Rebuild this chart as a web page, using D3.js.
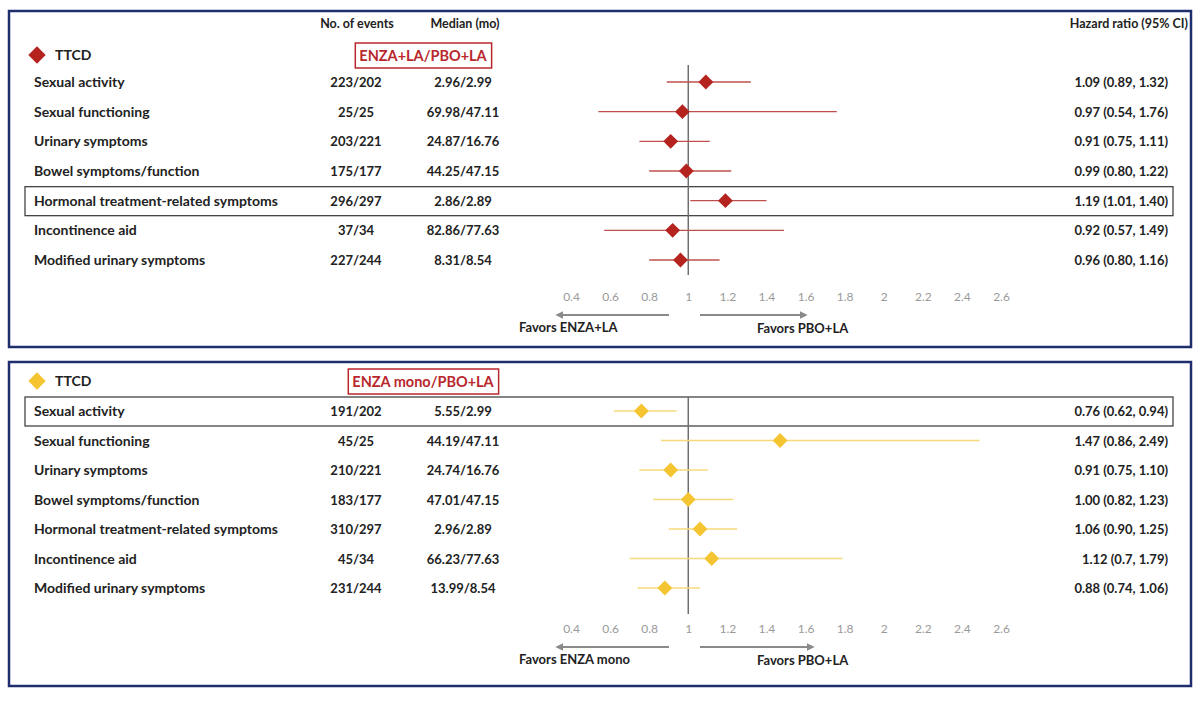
<!DOCTYPE html>
<html>
<head>
<meta charset="utf-8">
<script src="https://cdn.jsdelivr.net/npm/d3@7"></script>
<style>
  body { margin: 0; background: #fff; }
  text { font-family: Lato, "Open Sans", sans-serif; }
</style>
</head>
<body>
<div id="container"></div>
<script>
/* CONSTANTS AND GLOBALS */
const width = 1200, height = 701;

// DATA
const outcomes = ["Sexual activity", "Sexual functioning", "Urinary symptoms",
  "Bowel symptoms/function", "Hormonal treatment-related symptoms",
  "Incontinence aid", "Modified urinary symptoms"];
const tickValues = [0.4, 0.6, 0.8, 1, 1.2, 1.4, 1.6, 1.8, 2, 2.2, 2.4, 2.6];

// ENZA+LA vs PBO+LA
const laEvents = ["223/202", "25/25", "203/221", "175/177", "296/297", "37/34", "227/244"];
const laMedian = ["2.96/2.99", "69.98/47.11", "24.87/16.76", "44.25/47.15", "2.86/2.89", "82.86/77.63", "8.31/8.54"];
const laHR = [1.09, 0.97, 0.91, 0.99, 1.19, 0.92, 0.96];
const laLow = [0.89, 0.54, 0.75, 0.80, 1.01, 0.57, 0.80];
const laHigh = [1.32, 1.76, 1.11, 1.22, 1.40, 1.49, 1.16];
const laLabels = ["1.09 (0.89, 1.32)", "0.97 (0.54, 1.76)", "0.91 (0.75, 1.11)", "0.99 (0.80, 1.22)",
  "1.19 (1.01, 1.40)", "0.92 (0.57, 1.49)", "0.96 (0.80, 1.16)"];

// ENZA mono vs PBO+LA
const monoEvents = ["191/202", "45/25", "210/221", "183/177", "310/297", "45/34", "231/244"];
const monoMedian = ["5.55/2.99", "44.19/47.11", "24.74/16.76", "47.01/47.15", "2.96/2.89", "66.23/77.63", "13.99/8.54"];
const monoHR = [0.76, 1.47, 0.91, 1.00, 1.06, 1.12, 0.88];
const monoLow = [0.62, 0.86, 0.75, 0.82, 0.90, 0.7, 0.74];
const monoHigh = [0.94, 2.49, 1.10, 1.23, 1.25, 1.79, 1.06];
const monoLabels = ["0.76 (0.62, 0.94)", "1.47 (0.86, 2.49)", "0.91 (0.75, 1.10)", "1.00 (0.82, 1.23)",
  "1.06 (0.90, 1.25)", "1.12 (0.7, 1.79)", "0.88 (0.74, 1.06)"];

const svg = d3.select("#container")
  .append("svg")
  .attr("width", width)
  .attr("height", height);

// arrow marker
svg.append("defs").append("marker")
  .attr("id", "arrow")
  .attr("viewBox", "0 0 10 10")
  .attr("refX", 8).attr("refY", 5)
  .attr("markerWidth", 4.5).attr("markerHeight", 4.5)
  .attr("orient", "auto-start-reverse")
  .append("path")
  .attr("d", "M0,0 L10,5 L0,10 Z")
  .attr("fill", "#8a8a8a");

const x = d3.scaleLinear().domain([0.4, 2.6]).range([571, 1001]);

function drawPanel(p) {
  const g = svg.append("g");

  // frame
  g.append("rect")
    .attr("x", 9).attr("y", p.top)
    .attr("width", 1182).attr("height", p.bottom - p.top)
    .attr("fill", "none")
    .attr("stroke", "#1f2f6e")
    .attr("stroke-width", 2.5);

  const y = d3.scalePoint().domain(outcomes).range(p.rows);
  const rows = outcomes.map((o, i) => ({
    name: o, ev: p.events[i], med: p.median[i],
    hr: p.hr[i], lo: p.low[i], hi: p.high[i], lab: p.labels[i]
  }));

  // highlight box
  const hy = y(outcomes[p.highlight]);
  g.append("rect")
    .attr("x", 25).attr("y", hy - 14)
    .attr("width", 1148).attr("height", 29)
    .attr("fill", "none")
    .attr("stroke", "#444")
    .attr("stroke-width", 1.3);

  // legend: diamond + TTCD
  g.append("path")
    .attr("d", d3.symbol().type(d3.symbolSquare).size(150)())
    .attr("transform", `translate(37,${p.legendY}) rotate(45)`)
    .attr("fill", p.marker);
  g.append("text")
    .attr("x", 55).attr("y", p.legendY + 5)
    .attr("font-size", 14).attr("font-weight", 700)
    .attr("fill", "#222")
    .text("TTCD");

  // comparison box
  const cb = g.append("text")
    .attr("x", 423).attr("y", p.legendY + 6)
    .attr("text-anchor", "middle")
    .attr("font-size", 14.5).attr("font-weight", 700)
    .attr("fill", "#b8282d")
    .text(p.comparison);
  const bb = cb.node().getBBox();
  g.insert("rect", "text")
    .attr("x", bb.x - 4).attr("y", p.legendY - 12)
    .attr("width", bb.width + 8).attr("height", 25)
    .attr("fill", "none")
    .attr("stroke", "#b8282d")
    .attr("stroke-width", 1.5);

  // reference line
  g.append("line")
    .attr("x1", x(1)).attr("x2", x(1))
    .attr("y1", p.refTop).attr("y2", p.refBottom)
    .attr("stroke", "#6e6e6e")
    .attr("stroke-width", 1.5);

  const row = g.selectAll("g.row")
    .data(rows)
    .join("g")
    .attr("class", "row")
    .attr("transform", d => `translate(0,${y(d.name)})`);

  row.append("text")
    .attr("x", 34).attr("y", 5)
    .attr("font-size", 14).attr("font-weight", 700)
    .attr("fill", "#222")
    .text(d => d.name);
  row.append("text")
    .attr("x", 356).attr("y", 5)
    .attr("text-anchor", "middle")
    .attr("font-size", 13).attr("font-weight", 700)
    .attr("fill", "#222")
    .text(d => d.ev);
  row.append("text")
    .attr("x", 463).attr("y", 5)
    .attr("text-anchor", "middle")
    .attr("font-size", 13).attr("font-weight", 700)
    .attr("fill", "#222")
    .text(d => d.med);
  row.append("text")
    .attr("x", 1168).attr("y", 5)
    .attr("text-anchor", "end")
    .attr("font-size", 13).attr("font-weight", 700)
    .attr("fill", "#222")
    .text(d => d.lab);

  // CI lines
  row.append("line")
    .attr("x1", d => x(d.lo)).attr("x2", d => x(d.hi))
    .attr("y1", 0).attr("y2", 0)
    .attr("stroke", p.line)
    .attr("stroke-width", 1.3);
  // markers
  row.append("path")
    .attr("d", d3.symbol().type(d3.symbolSquare).size(110)())
    .attr("transform", d => `translate(${x(d.hr)},0) rotate(45)`)
    .attr("fill", p.marker);

  // x axis
  const axis = g.append("g")
    .attr("transform", `translate(0,${p.axisY})`)
    .call(d3.axisBottom(x).tickValues(tickValues).tickSize(0).tickFormat(d3.format("")));
  axis.select(".domain").remove();
  axis.selectAll("text")
    .attr("font-size", 12)
    .attr("fill", "#9a9a9a")
    .attr("font-family", "Lato, sans-serif");

  // favors arrows
  g.append("line")
    .attr("x1", 669).attr("x2", 557)
    .attr("y1", p.arrowY).attr("y2", p.arrowY)
    .attr("stroke", "#8a8a8a").attr("stroke-width", 1.8)
    .attr("marker-end", "url(#arrow)");
  g.append("line")
    .attr("x1", 700).attr("x2", p.rightArrowEnd)
    .attr("y1", p.arrowY).attr("y2", p.arrowY)
    .attr("stroke", "#8a8a8a").attr("stroke-width", 1.8)
    .attr("marker-end", "url(#arrow)");
  g.append("text")
    .attr("x", 519).attr("y", p.arrowY + 17)
    .attr("font-size", 13).attr("font-weight", 700)
    .attr("fill", "#222")
    .text(p.favorsLeft);
  g.append("text")
    .attr("x", 757).attr("y", p.arrowY + 18)
    .attr("font-size", 13).attr("font-weight", 700)
    .attr("fill", "#222")
    .text("Favors PBO+LA");
}

// column headers
const hdr = [
  { t: "No. of events", x: 357, a: "middle" },
  { t: "Median (mo)", x: 465, a: "middle" },
  { t: "Hazard ratio (95% CI)", x: 1188, a: "end" }
];
svg.selectAll("text.hdr")
  .data(hdr)
  .join("text")
  .attr("class", "hdr")
  .attr("x", d => d.x).attr("y", 28)
  .attr("text-anchor", d => d.a)
  .attr("font-size", 12.5).attr("font-weight", 700)
  .attr("fill", "#222")
  .text(d => d.t);

drawPanel({
  top: 11, bottom: 347, rows: [82, 260], legendY: 55,
  comparison: "ENZA+LA/PBO+LA", highlight: 4,
  events: laEvents, median: laMedian, hr: laHR, low: laLow, high: laHigh, labels: laLabels,
  marker: "#b5231f", line: "#c0504d",
  refTop: 65, refBottom: 275, axisY: 289, arrowY: 315, rightArrowEnd: 806,
  favorsLeft: "Favors ENZA+LA"
});

drawPanel({
  top: 362, bottom: 686, rows: [411, 588], legendY: 381,
  comparison: "ENZA mono/PBO+LA", highlight: 0,
  events: monoEvents, median: monoMedian, hr: monoHR, low: monoLow, high: monoHigh, labels: monoLabels,
  marker: "#f5c431", line: "#f7d87a",
  refTop: 397, refBottom: 614, axisY: 621, arrowY: 647, rightArrowEnd: 813,
  favorsLeft: "Favors ENZA mono"
});
</script>
</body>
</html>
